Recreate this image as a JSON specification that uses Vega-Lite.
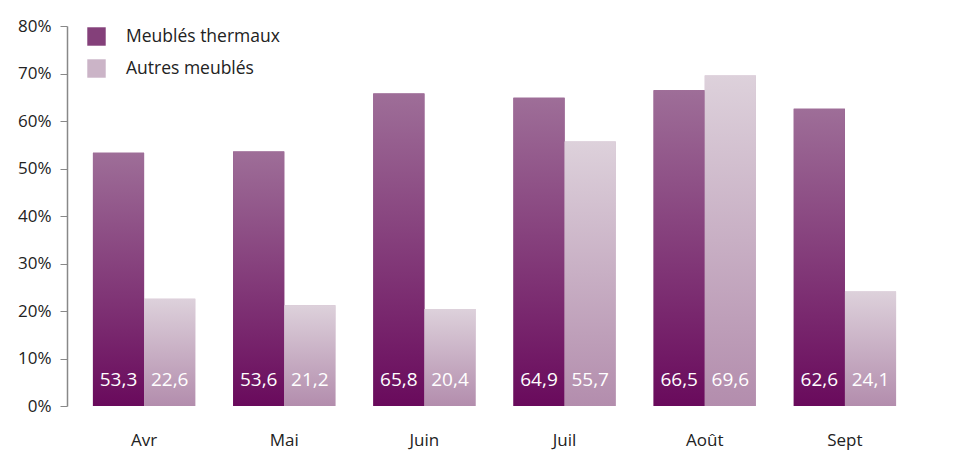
{
  "$schema": "https://vega.github.io/schema/vega-lite/v6.json",
  "width": 855,
  "height": 380,
  "autosize": "none",
  "padding": {"left": 67, "top": 26, "right": 47, "bottom": 46},
  "background": "#ffffff",
  "config": {
    "view": {"stroke": null},
    "font": "Open Sans",
    "locale": {"number": {"decimal": ",", "thousands": " ", "grouping": [3], "currency": ["", " €"]}}
  },
  "data": {
    "values": [
      {"mois": "Avr", "serie": "Meublés thermaux", "valeur": 53.3},
      {"mois": "Avr", "serie": "Autres meublés", "valeur": 22.6},
      {"mois": "Mai", "serie": "Meublés thermaux", "valeur": 53.6},
      {"mois": "Mai", "serie": "Autres meublés", "valeur": 21.2},
      {"mois": "Juin", "serie": "Meublés thermaux", "valeur": 65.8},
      {"mois": "Juin", "serie": "Autres meublés", "valeur": 20.4},
      {"mois": "Juil", "serie": "Meublés thermaux", "valeur": 64.9},
      {"mois": "Juil", "serie": "Autres meublés", "valeur": 55.7},
      {"mois": "Août", "serie": "Meublés thermaux", "valeur": 66.5},
      {"mois": "Août", "serie": "Autres meublés", "valeur": 69.6},
      {"mois": "Sept", "serie": "Meublés thermaux", "valeur": 62.6},
      {"mois": "Sept", "serie": "Autres meublés", "valeur": 24.1}
    ]
  },
  "encoding": {
    "x": {
      "field": "mois", "type": "nominal",
      "sort": ["Avr", "Mai", "Juin", "Juil", "Août", "Sept"],
      "scale": {"paddingInner": 0.27, "paddingOuter": 0.185},
      "axis": {"title": null, "domain": false, "ticks": false, "labelAngle": 0, "labelFontSize": 17, "labelColor": "#222222", "labelPadding": 26}
    },
    "xOffset": {
      "field": "serie", "type": "nominal",
      "scale": {"domain": ["Meublés thermaux", "Autres meublés"], "paddingInner": 0, "paddingOuter": 0}
    },
    "y": {
      "field": "valeur", "type": "quantitative",
      "scale": {"domain": [0, 80], "nice": false},
      "axis": {"title": null, "grid": false, "values": [0, 10, 20, 30, 40, 50, 60, 70, 80], "labelExpr": "datum.value + '%'", "labelFontSize": 17, "labelColor": "#222222", "labelPadding": 9, "tickSize": 7, "domainColor": "#888888", "tickColor": "#888888", "domainWidth": 1.5}
    }
  },
  "layer": [
    {
      "mark": {"type": "bar"},
      "encoding": {
        "color": {
          "field": "serie", "type": "nominal",
          "scale": {"domain": ["Meublés thermaux", "Autres meublés"], "range": ["#84407a", "#cbb4c7"]},
          "legend": {
            "title": null, "orient": "none", "legendX": 20, "legendY": 1,
            "symbolType": "square", "symbolSize": 340, "symbolStrokeWidth": 0,
            "labelFontSize": 17.5, "labelColor": "#222222", "rowPadding": 13, "labelOffset": 20
          }
        }
      }
    },
    {
      "transform": [{"filter": "datum.serie === 'Meublés thermaux'"}],
      "mark": {"type": "bar", "color": {"gradient": "linear", "x1": 0, "y1": 0, "x2": 0, "y2": 1, "stops": [{"offset": 0, "color": "#9e6e98"}, {"offset": 1, "color": "#690a5c"}]}}
    },
    {
      "transform": [{"filter": "datum.serie === 'Autres meublés'"}],
      "mark": {"type": "bar", "color": {"gradient": "linear", "x1": 0, "y1": 0, "x2": 0, "y2": 1, "stops": [{"offset": 0, "color": "#ddd1db"}, {"offset": 1, "color": "#b38dad"}]}}
    },
    {
      "mark": {"type": "text", "color": "#ffffff", "fontSize": 19, "baseline": "middle", "dy": -26},
      "encoding": {
        "y": {"datum": 0},
        "text": {"field": "valeur", "type": "quantitative", "format": ".1f"}
      }
    }
  ]
}
